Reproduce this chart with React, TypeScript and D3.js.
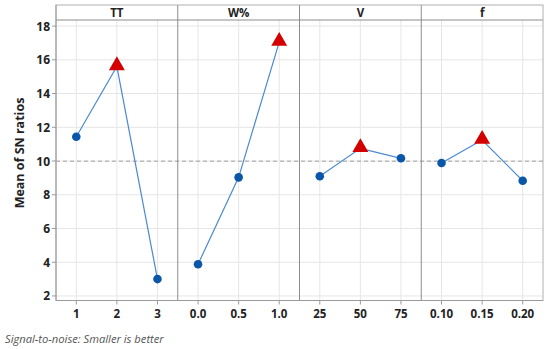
import * as d3 from 'd3';
import React from 'react';

const factors = ['TT', 'W%', 'V', 'f'];
const levelLabels = [
  ['1', '2', '3'],
  ['0.0', '0.5', '1.0'],
  ['25', '50', '75'],
  ['0.10', '0.15', '0.20'],
];
const snMeans = [
  [11.44, 15.6, 3.0],
  [3.88, 9.03, 17.05],
  [9.1, 10.75, 10.16],
  [9.88, 11.24, 8.83],
];
const overallMean = 9.99;
const yTicks = [2, 4, 6, 8, 10, 12, 14, 16, 18];

const width = 550;
const height = 349;
const margin = { top: 5, right: 7, bottom: 48.5, left: 56 };
const stripH = 15;
const font = '"Open Sans", "Noto Sans", sans-serif';

export default function App() {
  const plotW = width - margin.left - margin.right;
  const panelW = plotW / factors.length;
  const bottom = height - margin.bottom;
  const top = margin.top + stripH;

  const y = d3.scaleLinear().domain([1.73, 18.36]).range([bottom, top]);
  const panelX = d3.scaleBand<string>()
    .domain(factors)
    .range([margin.left, width - margin.right]);

  const tri = d3.symbol().type(d3.symbolTriangle).size(110)();
  const line = d3.line<number>();

  const levelScale = (i: number) => {
    const x0 = panelX(factors[i]) as number;
    return d3.scalePoint<string>().domain(levelLabels[i]).range([x0, x0 + panelW]).padding(0.5);
  };

  return (
    <svg width={width} height={height} style={{ position: 'absolute', left: 0, top: 0 }}>
      <rect width={width} height={height} fill="#fff" />

      {/* horizontal gridlines */}
      {yTicks.map((t) => (
        <line key={t} x1={margin.left} x2={width - margin.right} y1={y(t)} y2={y(t)} stroke="#e6e6e6" />
      ))}

      {factors.map((f, i) => {
        const x0 = panelX(f) as number;
        const x = levelScale(i);
        return (
          <g key={f}>
            {levelLabels[i].map((l) => (
              <g key={l}>
                <line x1={x(l)} x2={x(l)} y1={top} y2={bottom} stroke="#e6e6e6" />
                <line x1={x(l)} x2={x(l)} y1={bottom} y2={bottom + 4} stroke="#9a9a9a" />
                <text x={x(l)} y={bottom + 17} textAnchor="middle" fontFamily={font} fontWeight="bold" fontSize={11.5} fill="#222">{l}</text>
              </g>
            ))}
            <text x={x0 + panelW / 2} y={margin.top + 12} textAnchor="middle" fontFamily={font} fontWeight="bold" fontSize={11.5} fill="#222">{f}</text>
          </g>
        );
      })}

      {/* reference line at the overall mean */}
      <line x1={margin.left} x2={width - margin.right} y1={y(overallMean)} y2={y(overallMean)} stroke="#a0a0a0" strokeDasharray="4,3" />

      {/* panel separators and frame */}
      {factors.slice(1).map((f) => (
        <line key={f} x1={panelX(f)} x2={panelX(f)} y1={margin.top} y2={bottom} stroke="#8c8c8c" />
      ))}
      <line x1={margin.left} x2={width - margin.right} y1={top} y2={top} stroke="#8c8c8c" />
      <rect x={margin.left} y={margin.top} width={plotW} height={bottom - margin.top} fill="none" stroke="#b0b0b0" />
      <line x1={margin.left} x2={margin.left} y1={margin.top} y2={bottom} stroke="#9a9a9a" />
      <line x1={margin.left} x2={width - margin.right} y1={bottom} y2={bottom} stroke="#9a9a9a" />

      {factors.map((f, i) => {
        const x = levelScale(i);
        const vals = snMeans[i];
        const maxIdx = d3.maxIndex(vals);
        const pts = vals.map((v, j) => [x(levelLabels[i][j]) as number, y(v)] as [number, number]);
        return (
          <g key={f}>
            <path d={line(pts) ?? ''} fill="none" stroke="#4a8ad4" strokeWidth={1.2} />
            {pts.map((p, j) =>
              j === maxIdx ? (
                <path key={j} d={tri ?? ''} transform={`translate(${p[0]},${p[1] - 1})`} fill="#d40000" />
              ) : (
                <circle key={j} cx={p[0]} cy={p[1]} r={4.3} fill="#0a56a8" />
              )
            )}
          </g>
        );
      })}

      {/* y axis */}
      {yTicks.map((t) => (
        <g key={t}>
          <line x1={margin.left - 4} x2={margin.left} y1={y(t)} y2={y(t)} stroke="#9a9a9a" />
          <text x={margin.left - 6} y={y(t) + 4.5} textAnchor="end" fontFamily={font} fontWeight="bold" fontSize={12} fill="#222">{t}</text>
        </g>
      ))}
      <text transform="translate(24,153) rotate(-90)" textAnchor="middle" fontFamily={font} fontWeight="bold" fontSize={12.5} fill="#222">Mean of SN ratios</text>

      <text x={5} y={343} fontFamily={font} fontStyle="italic" fontSize={11.2} fill="#555">Signal-to-noise: Smaller is better</text>
    </svg>
  );
}
